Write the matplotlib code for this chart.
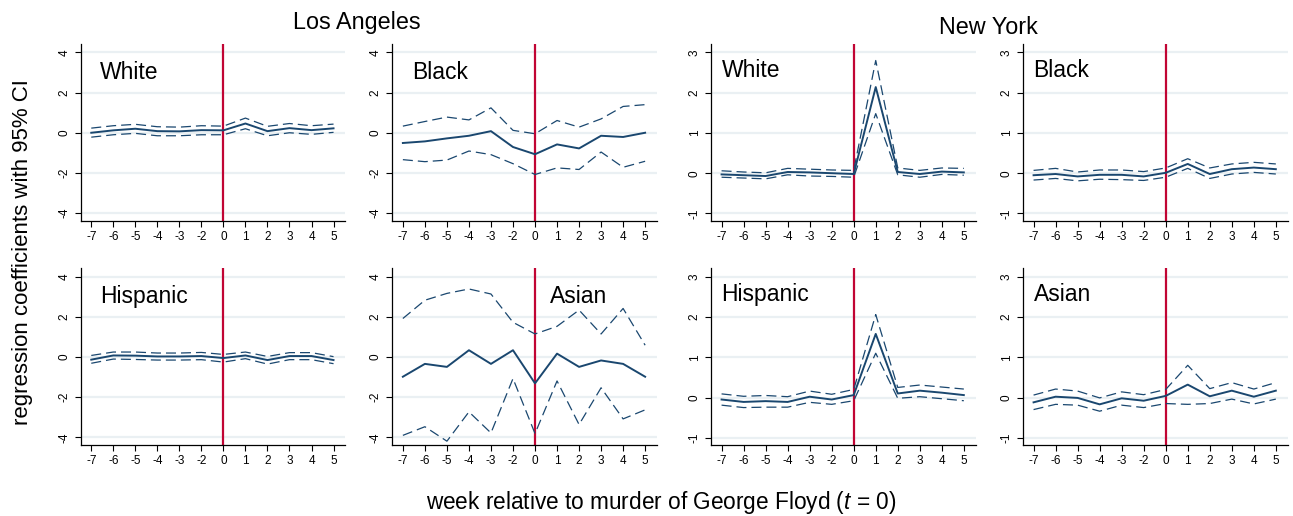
import matplotlib
matplotlib.use("Agg")
import matplotlib.pyplot as plt

plt.rcParams['font.family'] = ['Liberation Sans', 'DejaVu Sans']
plt.rcParams['mathtext.fontset'] = 'custom'
plt.rcParams['mathtext.rm'] = 'Liberation Sans'
plt.rcParams['mathtext.it'] = 'Liberation Sans:italic'

# week labels (no -1 week in the original)
weeks = ['-7', '-6', '-5', '-4', '-3', '-2', '0', '1', '2', '3', '4', '5']

# Los Angeles
la_white = [0.0, 0.12, 0.2, 0.08, 0.07, 0.13, 0.12, 0.46, 0.08, 0.23, 0.13, 0.22]
la_white_hi = [0.23, 0.35, 0.42, 0.3, 0.28, 0.35, 0.33, 0.73, 0.32, 0.46, 0.35, 0.43]
la_white_lo = [-0.22, -0.1, -0.03, -0.15, -0.15, -0.1, -0.1, 0.2, -0.15, 0.0, -0.08, 0.02]

la_black = [-0.51, -0.43, -0.28, -0.15, 0.08, -0.71, -1.07, -0.58, -0.78, -0.15, -0.21, 0.0]
la_black_hi = [0.33, 0.56, 0.78, 0.64, 1.24, 0.12, -0.05, 0.61, 0.28, 0.69, 1.31, 1.4]
la_black_lo = [-1.34, -1.44, -1.36, -0.91, -1.09, -1.54, -2.08, -1.75, -1.83, -0.96, -1.72, -1.42]

la_hisp = [-0.13, 0.08, 0.07, 0.03, 0.03, 0.05, -0.05, 0.08, -0.15, 0.05, 0.05, -0.15]
la_hisp_hi = [0.08, 0.25, 0.25, 0.2, 0.2, 0.23, 0.13, 0.25, 0.03, 0.22, 0.22, 0.02]
la_hisp_lo = [-0.31, -0.1, -0.12, -0.15, -0.15, -0.13, -0.25, -0.08, -0.35, -0.13, -0.13, -0.33]

la_asian = [-0.98, -0.34, -0.49, 0.34, -0.34, 0.34, -1.31, 0.17, -0.49, -0.17, -0.34, -0.98]
la_asian_hi = [1.92, 2.83, 3.17, 3.39, 3.14, 1.73, 1.15, 1.53, 2.34, 1.15, 2.42, 0.59]
la_asian_lo = [-3.9, -3.47, -4.19, -2.73, -3.78, -1.07, -3.81, -1.19, -3.36, -1.53, -3.08, -2.63]

# New York
ny_white = [-0.03, -0.05, -0.07, 0.03, 0.02, 0.0, -0.02, 2.14, 0.03, -0.02, 0.04, 0.02]
ny_white_hi = [0.06, 0.03, 0.01, 0.12, 0.1, 0.08, 0.07, 2.8, 0.13, 0.07, 0.13, 0.12]
ny_white_lo = [-0.1, -0.12, -0.14, -0.04, -0.07, -0.08, -0.1, 1.48, -0.04, -0.1, -0.03, -0.05]

ny_black = [-0.05, -0.02, -0.08, -0.04, -0.04, -0.08, 0.01, 0.23, -0.02, 0.1, 0.14, 0.1]
ny_black_hi = [0.07, 0.12, 0.03, 0.08, 0.08, 0.04, 0.13, 0.36, 0.13, 0.23, 0.27, 0.23]
ny_black_lo = [-0.17, -0.13, -0.19, -0.15, -0.16, -0.18, -0.1, 0.12, -0.13, -0.02, 0.02, -0.02]

ny_hisp = [-0.05, -0.11, -0.09, -0.11, 0.02, -0.05, 0.06, 1.58, 0.1, 0.17, 0.12, 0.06]
ny_hisp_hi = [0.09, 0.03, 0.05, 0.02, 0.16, 0.08, 0.2, 2.06, 0.25, 0.31, 0.26, 0.21]
ny_hisp_lo = [-0.19, -0.25, -0.24, -0.24, -0.12, -0.17, -0.08, 1.1, -0.02, 0.02, -0.03, -0.08]

ny_asian = [-0.12, 0.02, -0.01, -0.17, -0.02, -0.08, 0.04, 0.32, 0.03, 0.17, 0.02, 0.17]
ny_asian_hi = [0.06, 0.21, 0.16, -0.01, 0.14, 0.07, 0.2, 0.8, 0.22, 0.37, 0.21, 0.37]
ny_asian_lo = [-0.3, -0.17, -0.19, -0.34, -0.19, -0.25, -0.15, -0.17, -0.15, -0.04, -0.16, -0.04]

navy = '#1a476f'
red = '#c10534'
grid_col = '#eaf0f3'

W, H = 1293, 516
fig = plt.figure(figsize=(W / 100, H / 100), dpi=100)


def panel(left_px, top_px, b, hi, lo, label, city, label_x, label_y):
    ax = fig.add_axes([left_px / W, 1 - (top_px + 176.7) / H, 264.5 / W, 176.7 / H])
    x = list(range(len(weeks)))
    if city == 'LA':
        yt = [-4, -2, 0, 2, 4]
        ax.set_ylim(-4.38, 4.42)
    else:
        yt = [-1, 0, 1, 2, 3]
        ax.set_ylim(-1.18, 3.21)
    for v in yt:
        ax.axhline(v, color=grid_col, lw=1.6, zorder=0)
    ax.axvline(weeks.index('0'), color=red, lw=1.6, zorder=2)
    ax.plot(x, hi, color=navy, lw=0.9, dashes=(8, 4), zorder=3)
    ax.plot(x, lo, color=navy, lw=0.9, dashes=(8, 4), zorder=3)
    ax.plot(x, b, color=navy, lw=1.4, zorder=4)
    ax.set_xlim(-0.48, 11.53)
    ax.set_xticks(x)
    ax.set_xticklabels(weeks)
    ax.set_yticks(yt)
    ax.set_yticklabels([str(v) for v in yt], rotation=90, va='center')
    ax.tick_params(labelsize=8.5, length=4.5, width=0.8, pad=3, colors='black')
    for s in ['top', 'right']:
        ax.spines[s].set_visible(False)
    for s in ['left', 'bottom']:
        ax.spines[s].set_linewidth(0.9)
    ax.text(label_x, label_y, label, fontsize=16.5, va='center', ha='left', zorder=5)
    return ax


panel(80.7, 44, la_white, la_white_hi, la_white_lo, 'White', 'LA', 0.41, 3.0)
panel(392.3, 44, la_black, la_black_hi, la_black_lo, 'Black', 'LA', 0.41, 3.0)
panel(711, 44, ny_white, ny_white_hi, ny_white_lo, 'White', 'NY', 0.0, 2.56)
panel(1023, 44, ny_black, ny_black_hi, ny_black_lo, 'Black', 'NY', 0.0, 2.56)
panel(80.7, 268.3, la_hisp, la_hisp_hi, la_hisp_lo, 'Hispanic', 'LA', 0.41, 3.0)
panel(392.3, 268.3, la_asian, la_asian_hi, la_asian_lo, 'Asian', 'LA', 6.7, 3.0)
panel(711, 268.3, ny_hisp, ny_hisp_hi, ny_hisp_lo, 'Hispanic', 'NY', 0.0, 2.56)
panel(1023, 268.3, ny_asian, ny_asian_hi, ny_asian_lo, 'Asian', 'NY', 0.0, 2.56)

fig.text(356.7 / W, 1 - 22.3 / H, 'Los Angeles', fontsize=16.8, ha='center', va='center')
fig.text(988 / W, 1 - 27 / H, 'New York', fontsize=16.8, ha='center', va='center')
fig.text(23 / W, 1 - 251.7 / H, 'regression coefficients with 95% CI', fontsize=16,
         rotation=90, ha='center', va='center')
fig.text(661.5 / W, 1 - 503 / H, 'week relative to murder of George Floyd ($t$ = 0)',
         fontsize=16.3, ha='center', va='center')

fig.savefig('out.png', dpi=100, facecolor='white')
